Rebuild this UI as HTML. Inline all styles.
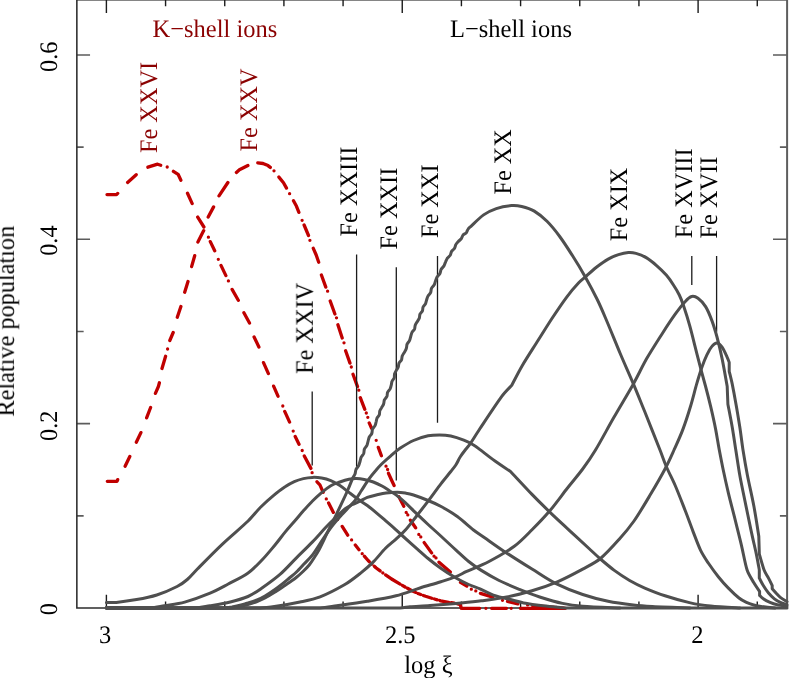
<!DOCTYPE html>
<html><head><meta charset="utf-8"><title>Fe ion populations</title>
<style>html,body{margin:0;padding:0;background:#fff;overflow:hidden;}svg{display:block;}text{font-family:"Liberation Serif",serif;font-size:24px;text-rendering:geometricPrecision;}</style></head><body>
<svg width="789" height="678" viewBox="0 0 789 678">
<rect x="0" y="0" width="789" height="678" fill="#fff"/>
<path d="M76.85 515.83H83.65M76.85 423.66H90.05M76.85 331.49H83.65M76.85 239.32H90.05M76.85 147.15H83.65M76.85 54.98H90.05M787.10 515.83H779.90M787.10 423.66H773.00M787.10 331.49H779.90M787.10 239.32H773.00M787.10 147.15H779.90M787.10 54.98H773.00" stroke="#5c5c5c" stroke-width="1.6" fill="none"/>
<path d="M76.85 -0.30H787.10V608.05" stroke="#5e5e5e" stroke-width="2" fill="none"/>
<path d="M76.85 -0.30V608.05H787.10" stroke="#2c2c2c" stroke-width="1.55" fill="none" stroke-linejoin="miter"/>
<path d="M106.40 608.05V594.75M106.40 -0.30V13.00M165.57 608.05V601.45M165.57 -0.30V6.30M224.74 608.05V601.45M224.74 -0.30V6.30M283.91 608.05V601.45M283.91 -0.30V6.30M343.08 608.05V601.45M343.08 -0.30V6.30M402.25 608.05V594.75M402.25 -0.30V13.00M461.42 608.05V601.45M461.42 -0.30V6.30M520.59 608.05V601.45M520.59 -0.30V6.30M579.76 608.05V601.45M579.76 -0.30V6.30M638.93 608.05V601.45M638.93 -0.30V6.30M698.10 608.05V594.75M698.10 -0.30V13.00M757.27 608.05V601.45M757.27 -0.30V6.30" stroke="#1c1c1c" stroke-width="1.4" fill="none"/>
<g fill="none" stroke="#c00000" stroke-width="3.3" stroke-linecap="round" stroke-linejoin="round">
<path d="M107.0 194.6L116.5 194.6L117.7 193.4M127.6 182.4L136.2 174.7M147.9 167.2L157.6 164.2L160.7 165.2M167.2 167.0l.01 0M173.4 171.3L178.1 174.3L180.9 180.2M187.5 193.3L192.2 203.6M197.7 217.1L203.9 227.0M208.4 237.2l.01 0M210.3 241.6L214.7 250.8M218.3 259.3l.01 0M221.0 265.4L225.9 275.6M228.4 280.9l.01 0M232.1 289.4L238.3 300.3M243.9 312.8L249.5 323.0M254.1 337.0L258.9 347.0M263.5 362.6L268.4 373.6M273.6 386.1L278.0 396.2M282.8 406.0l.01 0M284.7 411.4L289.6 422.1M293.2 431.1l.01 0M295.2 436.5L299.0 444.3M302.2 450.5l.01 0M304.3 456.0L310.9 468.4M312.1 472.7l.01 0M317.0 481.8L319.9 484.8L323.2 492.3M326.3 498.9l.01 0M328.6 503.0L333.4 512.4M337.6 519.6l.01 0M342.2 526.4L347.7 535.2M351.6 539.9l.01 0M355.3 545.1L359.0 549.8M362.2 553.7l.01 0"/>
<path d="M364.3 556.2L368.1 560.5L376.2 568.0L384.3 574.0L392.4 579.5" stroke-dasharray="7.5 3.3 0.1 3.3"/>
<path d="M392.4 579.5L402.7 585.6L411.9 590.8L418.0 593.5L425.6 596.3L433.2 598.7L440.8 600.8L448.4 602.3L456.0 603.4L460.3 604.6L461.2 608.2" stroke-dasharray="9 2.7 3 2.7"/>
<path d="M462.2 608.3H479.7M485.9 608.3l.01 0M491.6 608.3H506.5M511.2 608.3l.01 0M520.4 608.3H565.4"/>
<path d="M107.3 481.3L117.1 481.3L117.7 479.6M125.1 466.2L129.8 456.5M136.3 442.2L140.9 432.6M146.6 417.9L150.6 407.5M155.4 393.4L158.4 386.5L159.4 382.8M162.0 368.5L165.6 356.3M167.6 349.0l.01 0M169.8 340.5L173.2 332.5M177.3 317.3L180.9 306.5M184.7 292.2L188.0 281.5M191.6 266.6L194.7 255.7M197.9 242.0L203.7 230.6M208.2 217.0L213.6 206.9M219.0 195.8L227.9 182.5M236.4 172.5L239.4 169.8L247.9 165.5M257.8 162.8L263.0 163.5L268.0 165.6L270.3 167.4M274.0 170.8l.01 0M278.9 177.1L283.5 182.7L286.5 188.1M289.6 193.7l.01 0M293.5 200.8L296.5 206.3L298.9 212.4M302.1 220.3l.01 0M304.1 225.0L308.5 235.5M309.9 240.3l.01 0M313.3 248.3L316.2 255.0L318.7 262.3M321.4 275.0L325.8 287.1M327.6 291.2l.01 0M330.2 301.0L334.9 314.0M336.5 317.8l.01 0M337.9 324.8L342.2 338.0M344.0 342.8l.01 0M345.6 350.7L350.0 363.1M351.3 367.0l.01 0M353.0 374.2L357.5 386.6M358.8 390.2l.01 0M360.3 397.7L364.8 409.3M366.3 413.0l.01 0M367.8 417.3l.01 0M369.2 422.9L371.6 428.2M376.2 440.3l.01 0M378.3 447.4L381.4 455.8M386.0 466.2l.01 0M387.6 469.5l.01 0M388.5 473.3L391.5 480.0L394.1 485.5M398.9 496.8L403.8 506.2M406.2 512.4l.01 0M407.8 514.9l.01 0M410.4 520.2L415.6 527.8M418.8 534.4l.01 0M420.8 536.9l.01 0M424.2 542.6L431.6 552.9M434.0 556.2l.01 0M436.0 557.9l.01 0M439.0 562.2L450.3 572.1M460.5 582.4L466.8 586.1M471.3 589.2l.01 0M475.8 590.9l.01 0M480.4 593.4L492.9 597.1M502.5 600.3l.01 0M507.5 601.4L517.9 603.8M527.6 604.9l.01 0M532.6 605.7L548.0 607.0L563.6 608.2"/>
</g>
<path d="M312.2 391.4V465.6M356.6 254.5V466.8M396.3 267.2V480.6M437.5 256.0V422.8M691.8 256.0V285.0M716.6 256.0V331.8" stroke="#1c1c1c" stroke-width="1.3" fill="none"/>
<g fill="none" stroke="#4f4f4f" stroke-width="3" stroke-linecap="round" stroke-linejoin="round">
<path d="M106.4 602.5C108.1 602.5 113.0 602.7 116.3 602.4C121.3 601.9 129.9 600.8 136.6 599.6C143.3 598.4 150.2 597.1 156.8 595.0C163.6 592.8 172.0 589.1 177.1 586.5C180.8 584.6 184.2 582.2 187.3 579.5C190.7 576.6 194.0 572.4 197.4 569.0C203.3 563.0 214.2 551.8 222.7 543.8C231.0 536.0 241.8 527.1 248.1 521.0C252.6 516.6 256.6 511.2 260.8 507.0C264.8 503.0 269.3 499.0 273.4 495.6C277.2 492.5 281.6 489.1 285.1 486.8C288.0 484.8 291.2 483.0 294.3 481.6C297.2 480.3 300.4 479.3 303.4 478.6C306.4 477.9 309.5 477.5 312.5 477.4C315.5 477.3 318.6 477.5 321.6 478.0C324.7 478.5 327.9 479.4 330.8 480.6C333.9 481.9 337.0 483.7 339.9 485.6C342.9 487.6 346.0 490.1 349.0 492.4C352.0 494.7 355.1 497.1 358.1 499.3C361.1 501.5 364.3 503.3 367.3 505.5C370.4 507.8 373.4 510.3 376.4 512.8C379.4 515.3 382.5 518.1 385.5 520.7C388.8 523.5 393.1 527.2 396.0 529.8C398.3 531.8 400.4 534.0 402.7 536.0C405.9 538.9 411.2 543.6 415.4 547.4C419.6 551.1 423.9 555.0 428.1 558.5C432.2 561.9 436.4 565.1 440.8 568.2C445.4 571.5 451.4 575.3 456.0 578.0C460.1 580.4 464.7 582.7 468.7 584.5C472.4 586.2 476.3 587.3 480.0 588.9C484.4 590.8 490.1 593.9 495.2 595.7C500.1 597.4 505.3 598.2 510.4 599.5C515.5 600.8 520.5 602.3 525.6 603.3C530.6 604.3 535.7 605.0 540.8 605.6C545.9 606.2 551.7 606.7 556.0 607.1C559.6 607.4 564.9 607.9 566.7 608.0C603.4 608.0 750.3 608.0 787.0 608.0"/>
<path d="M106.4 608.0C113.7 608.0 140.3 608.4 150.0 608.0C154.9 607.8 159.6 606.6 164.4 605.8C170.2 604.8 178.1 603.9 184.7 602.1C192.3 600.0 202.9 596.2 210.1 593.2C216.2 590.7 222.0 587.4 227.8 584.3C234.1 580.9 242.4 576.9 248.1 572.9C253.3 569.2 257.6 564.6 262.0 560.0C266.5 555.4 271.1 549.6 275.0 545.0C278.5 540.8 281.9 536.0 285.1 532.1C288.1 528.5 291.3 525.0 294.3 521.5C297.4 518.0 300.4 514.2 303.4 510.8C306.4 507.5 309.5 504.0 312.5 501.0C315.4 498.1 318.6 495.2 321.6 492.6C324.5 490.1 327.8 487.5 330.8 485.7C333.6 484.1 336.9 483.1 339.9 482.0C342.9 480.9 346.2 479.8 349.0 479.2C351.5 478.7 354.1 478.4 356.6 478.5C359.1 478.6 361.7 479.0 364.2 479.5C367.0 480.1 370.4 480.9 373.3 482.0C376.4 483.1 379.7 484.8 382.5 486.3C385.1 487.7 387.9 489.8 390.1 491.2C392.1 492.4 394.1 493.5 396.0 494.9C398.5 496.8 402.1 499.7 405.0 502.3C408.2 505.2 411.6 508.9 415.0 512.2C418.9 515.9 423.8 520.5 428.1 524.5C432.3 528.4 436.6 532.1 440.8 536.0C445.4 540.3 451.4 545.9 456.0 550.1C460.2 553.9 464.5 558.1 468.7 561.5C472.7 564.7 476.9 567.7 481.3 570.4C486.4 573.6 493.0 577.5 499.1 580.5C505.5 583.7 512.6 586.6 519.4 589.4C526.1 592.1 532.8 594.8 539.7 597.0C546.9 599.3 555.3 601.9 562.5 603.4C569.1 604.8 575.9 605.7 582.7 606.2C592.3 607.0 613.8 607.7 620.0 608.0"/>
<path d="M106.4 608.0C121.2 608.0 177.7 608.4 195.0 608.0C200.1 607.9 205.0 606.6 210.0 605.8C215.9 604.8 224.0 603.5 230.3 602.0C236.3 600.5 242.7 598.8 248.0 596.5C253.0 594.3 257.5 591.1 262.0 588.0C267.3 584.3 274.3 579.3 280.0 574.4C285.7 569.4 290.8 563.5 296.2 558.1C301.6 552.7 307.6 547.0 312.5 541.9C316.9 537.3 321.6 531.8 325.4 527.8C328.6 524.5 331.9 521.3 335.2 518.2C338.4 515.1 342.1 511.2 344.9 509.0C347.0 507.3 349.6 506.1 352.0 504.8C354.5 503.5 357.4 502.3 360.0 501.1C362.5 499.9 364.7 498.4 367.3 497.4C370.0 496.4 373.2 495.7 376.2 495.0C379.3 494.3 382.7 493.4 386.0 493.0C389.5 492.6 394.0 492.3 397.3 492.3C400.2 492.3 403.3 492.8 406.0 493.2C408.5 493.6 411.1 494.2 413.5 495.0C417.2 496.2 423.5 498.6 428.1 500.5C432.5 502.3 436.9 504.2 441.1 506.5C446.0 509.2 452.2 512.8 457.3 516.5C462.7 520.4 468.9 526.4 473.5 530.0C477.2 532.9 481.2 535.3 485.0 538.0C490.1 541.6 497.7 547.1 504.2 551.4C512.0 556.6 523.5 563.8 532.0 569.1C539.6 573.8 546.9 579.1 554.9 583.1C563.4 587.3 573.8 591.5 582.7 594.5C591.0 597.3 599.7 599.5 608.1 601.3C616.4 603.0 626.0 604.2 633.4 605.1C639.7 605.9 646.1 606.3 652.4 606.6C661.8 607.1 683.7 607.8 690.0 608.0"/>
<path d="M106.4 608.0C126.2 608.0 204.1 608.2 225.0 608.0C227.4 608.0 229.7 607.4 232.0 607.0C234.5 606.5 237.5 605.9 240.0 605.3C242.4 604.7 244.7 603.9 247.0 603.2C249.8 602.4 253.5 601.4 256.5 600.2C259.4 599.0 262.3 597.6 265.0 596.0C267.9 594.3 271.4 592.0 274.2 590.0C276.9 588.2 279.5 586.2 282.0 584.2C284.6 582.1 287.6 579.5 290.0 577.5C292.1 575.8 294.3 574.2 296.2 572.3C298.5 570.0 301.4 566.8 304.0 564.0C306.7 561.1 310.0 558.2 312.5 554.9C315.5 550.9 319.0 545.1 322.2 540.3C325.4 535.6 328.6 530.5 331.9 526.3C335.0 522.3 338.8 518.1 341.7 514.8C344.2 512.0 347.2 509.0 349.5 506.5C351.5 504.3 353.7 502.2 355.5 499.8C357.5 497.2 359.4 493.8 361.3 490.8C363.6 487.3 366.6 482.3 369.0 478.9C371.2 475.9 373.9 472.6 376.0 470.2C377.7 468.1 379.5 466.1 381.4 464.2C383.9 461.8 387.7 458.4 390.8 455.8C393.8 453.2 396.7 450.5 400.0 448.3C403.8 445.8 408.8 442.6 413.5 440.5C418.2 438.4 423.8 436.7 428.1 435.8C431.8 435.0 435.7 434.9 439.5 434.9C443.3 434.9 447.1 435.2 450.8 436.0C454.9 436.9 460.0 438.7 463.8 440.2C467.2 441.5 470.8 443.4 473.5 445.0C475.8 446.3 477.9 448.0 480.0 449.6C483.6 452.3 489.9 457.4 495.0 461.0C500.1 464.6 507.9 469.8 510.5 471.5C514.1 475.3 525.5 487.6 532.0 494.4C537.8 500.4 543.8 506.3 549.8 512.1C556.1 518.2 563.6 525.0 570.1 531.1C576.4 536.9 584.0 543.9 589.0 548.5C592.8 552.0 596.5 555.6 600.4 559.0C604.6 562.6 609.5 566.8 614.3 570.4C619.2 574.0 624.5 577.5 629.6 580.5C634.5 583.3 639.6 585.9 644.8 588.1C650.7 590.6 658.1 593.6 665.0 595.8C672.6 598.3 682.8 601.2 690.4 602.9C697.1 604.4 703.9 605.3 710.7 606.0C719.0 606.9 735.1 607.7 740.0 608.0"/>
<path d="M106.4 608.0C127.0 608.0 208.1 608.2 230.0 608.0C232.7 608.0 235.4 607.5 238.0 607.0C240.8 606.5 244.0 605.6 247.0 604.8C250.1 603.9 253.5 602.9 256.5 601.8C259.4 600.7 262.2 599.4 265.0 598.0C267.9 596.5 271.4 594.4 274.2 592.6C276.8 591.0 279.4 589.2 282.0 587.5C284.6 585.7 287.6 583.7 290.0 582.0C292.1 580.5 294.2 579.1 296.2 577.5C298.4 575.8 300.8 573.6 303.0 571.5C305.2 569.4 307.4 567.2 309.2 565.0C311.0 562.8 312.5 560.4 314.0 558.0C315.6 555.5 317.4 552.8 318.9 550.0C321.2 545.7 324.7 538.1 327.6 532.2C330.5 526.2 333.8 519.7 336.4 514.3C338.8 509.4 341.5 503.8 343.4 499.7C344.9 496.5 346.4 493.3 347.8 490.0C349.4 486.4 351.6 480.6 352.8 477.9C353.4 476.5 354.5 475.4 355.0 474.0C355.5 472.6 355.4 470.9 356.0 469.5C356.6 468.2 357.9 467.1 358.6 465.8C359.3 464.4 359.6 462.9 360.0 461.5C360.4 460.1 360.6 458.6 361.2 457.2C361.8 455.9 363.1 454.9 363.7 453.5C364.2 452.1 363.9 450.4 364.4 449.1C365.0 447.7 366.3 446.7 366.9 445.4C367.5 444.0 367.7 442.5 368.1 441.1C368.5 439.7 368.7 438.3 369.3 437.0C369.9 435.8 371.2 434.8 371.8 433.5C372.3 432.2 372.0 430.5 372.5 429.2C373.1 427.9 374.4 426.9 375.0 425.7C375.6 424.4 375.8 422.9 376.2 421.6C376.5 420.4 376.6 419.1 377.1 417.9C377.6 416.8 378.9 415.9 379.3 414.8C379.8 413.6 379.4 412.1 379.8 410.9C380.2 409.7 381.0 408.7 381.6 407.6C382.2 406.4 383.2 405.3 383.6 404.0C384.1 402.7 383.9 401.1 384.4 399.9C385.0 398.6 386.3 397.7 386.9 396.4C387.4 395.2 387.1 393.6 387.6 392.3C388.2 391.0 389.5 390.1 390.1 388.9C390.7 387.6 391.0 386.2 391.3 384.9C391.6 383.7 391.6 382.3 392.1 381.2C392.6 380.0 393.8 379.1 394.2 377.9C394.6 376.7 394.2 375.2 394.6 374.0C394.9 372.8 395.6 371.7 396.2 370.6C396.8 369.5 397.8 368.4 398.2 367.1C398.7 365.9 398.5 364.4 399.0 363.1C399.6 361.9 400.9 361.1 401.5 359.9C402.0 358.6 401.8 357.1 402.3 355.9C402.7 354.6 403.7 353.6 404.3 352.4C405.0 351.2 405.9 349.9 406.3 348.5C406.8 347.1 406.6 345.5 407.1 344.1C407.7 342.8 409.0 341.7 409.6 340.4C410.2 339.1 410.4 337.5 410.8 336.2C411.2 334.9 411.4 333.6 412.0 332.4C412.6 331.2 413.9 330.3 414.5 329.1C415.0 327.9 414.8 326.3 415.3 325.1C415.7 323.8 416.6 322.7 417.3 321.6C418.0 320.5 418.8 319.4 419.3 318.2C419.7 316.9 419.5 315.4 420.0 314.2C420.5 313.0 421.8 312.2 422.4 311.0C422.9 309.8 422.6 308.2 423.1 307.0C423.6 305.8 424.9 304.9 425.5 303.8C426.0 302.6 426.2 301.3 426.6 300.0C427.0 298.7 427.3 297.2 428.0 296.0C428.6 294.8 430.0 293.9 430.6 292.6C431.2 291.3 430.9 289.7 431.5 288.4C432.1 287.1 433.5 286.2 434.1 285.0C434.8 283.8 435.0 282.3 435.5 281.0C436.0 279.7 436.4 278.2 437.1 276.9C437.9 275.7 439.3 274.8 439.9 273.5C440.6 272.2 440.5 270.5 441.2 269.3C441.8 268.0 443.2 267.1 444.0 265.9C444.7 264.6 445.0 263.1 445.6 261.8C446.1 260.6 446.6 259.3 447.3 258.2C448.1 257.1 449.5 256.4 450.2 255.3C450.9 254.1 450.9 252.5 451.6 251.4C452.3 250.3 453.7 249.6 454.4 248.5C455.2 247.4 455.2 245.8 455.8 244.6C456.4 243.5 457.4 242.5 458.3 241.5C459.2 240.5 460.4 239.8 461.2 238.8C462.0 237.7 462.2 236.1 463.0 235.1C463.9 234.1 465.4 233.7 466.3 232.7C467.1 231.7 467.3 230.1 468.1 229.1C468.9 228.0 470.0 227.2 471.0 226.3C473.6 223.9 479.4 217.9 483.6 214.9C487.5 212.2 491.8 210.1 496.3 208.6C500.9 207.0 507.3 205.9 511.5 205.6C514.9 205.3 518.4 205.7 521.7 206.5C525.5 207.4 530.4 208.8 534.3 211.1C538.5 213.6 543.2 217.5 547.0 221.3C551.2 225.5 555.8 231.2 559.7 236.5C563.9 242.2 568.3 249.1 572.4 255.5C576.7 262.2 581.2 269.6 585.3 276.9C589.4 284.1 593.6 292.1 597.0 299.0C600.1 305.2 602.8 311.6 605.5 318.0C609.4 327.1 615.6 342.5 620.2 353.5C624.5 363.7 629.3 374.2 633.4 383.9C637.3 393.2 641.0 402.5 644.8 411.8C649.2 422.8 656.4 440.9 660.0 450.0C662.2 455.5 664.0 461.1 666.3 466.5C668.8 472.4 672.4 479.1 675.2 485.5C678.4 492.9 682.3 503.2 685.3 510.8C687.9 517.5 690.4 524.6 692.9 531.1C695.4 537.5 698.0 544.8 700.5 550.1C702.6 554.5 705.4 558.7 708.1 562.8C711.1 567.2 714.9 572.5 718.3 576.7C721.5 580.7 724.9 584.6 728.4 588.1C731.8 591.6 736.0 595.6 739.0 598.0C741.2 599.8 743.9 601.2 746.4 602.4C748.7 603.5 751.2 604.3 753.7 605.0C756.1 605.7 758.6 606.1 761.1 606.5C764.6 607.0 772.7 607.8 775.0 608.0"/>
<path d="M106.4 608.0C132.0 608.0 231.7 608.3 260.0 608.0C265.4 607.9 270.7 607.1 276.0 606.3C282.7 605.3 292.6 603.6 300.0 602.0C306.8 600.6 313.7 599.4 320.1 596.9C327.5 594.0 337.5 588.8 344.4 584.8C350.4 581.3 356.4 576.4 361.2 572.6C365.4 569.3 369.5 565.7 373.3 561.9C377.4 557.8 381.7 552.1 385.5 548.3C388.8 545.0 392.7 542.1 396.0 539.1C399.2 536.1 402.5 533.3 405.4 530.0C408.9 526.1 413.0 520.5 416.8 515.7C420.6 510.9 424.4 506.0 428.1 501.1C432.2 495.8 437.3 488.5 441.1 483.6C444.2 479.5 448.4 474.6 450.8 471.5C452.5 469.4 454.3 467.3 455.8 465.0C457.4 462.6 458.6 459.4 460.3 456.8C462.0 454.1 464.3 451.2 466.0 449.0C467.4 447.2 469.0 445.5 470.3 443.6C472.6 440.2 476.7 433.5 480.0 428.5C485.2 420.7 496.3 403.8 501.6 396.6C504.6 392.5 510.1 387.1 511.8 385.2C513.5 382.0 518.3 372.4 521.9 366.2C526.3 358.7 533.3 348.0 538.3 340.0C542.9 332.7 547.4 325.4 552.1 318.2C556.9 311.0 562.5 302.7 566.9 296.8C570.6 291.9 575.6 286.1 578.7 282.8C580.7 280.7 583.1 278.9 585.3 277.0C588.2 274.4 592.6 270.2 596.4 267.2C600.2 264.3 604.5 261.2 608.2 259.1C611.5 257.2 615.1 255.7 618.5 254.6C621.7 253.6 625.5 252.8 628.4 252.6C630.9 252.4 633.5 252.7 636.0 253.4C639.0 254.2 643.0 255.7 646.2 257.6C649.6 259.6 653.1 262.5 656.3 265.3C659.7 268.2 663.6 272.0 666.5 275.3C669.2 278.4 671.5 281.9 673.6 285.2C675.7 288.4 677.7 291.6 679.3 295.0C680.9 298.3 682.2 301.8 683.4 305.3C685.1 310.4 687.8 318.8 689.7 325.6C691.6 332.3 693.2 339.1 694.9 345.9C696.6 352.7 698.3 359.4 700.1 366.2C701.9 373.0 703.8 379.8 705.6 386.5C707.4 393.2 709.1 399.9 710.7 406.7C712.4 413.9 714.3 422.4 715.7 429.6C717.0 436.4 718.0 443.2 719.3 450.0C720.6 456.8 721.9 463.6 723.3 470.3C724.8 477.5 726.6 485.5 728.4 493.1C730.3 501.1 732.7 510.0 734.8 518.4C736.9 526.8 739.1 535.3 741.1 543.8C743.2 552.4 745.0 563.5 747.1 570.0C748.6 574.5 751.6 578.9 753.7 582.5C755.5 585.6 758.6 589.9 759.6 591.4C759.6 592.1 759.6 594.7 759.6 595.4C760.2 596.0 761.9 597.9 763.3 598.8C765.0 600.0 767.7 601.4 770.0 602.4C772.3 603.4 774.8 604.2 777.3 604.7C780.1 605.3 785.4 605.9 787.0 606.1"/>
<path d="M106.4 608.0C142.0 608.0 281.6 608.4 320.0 608.0C325.6 607.9 331.2 606.6 336.8 605.8C344.7 604.7 357.4 603.0 367.3 601.3C376.9 599.7 387.2 598.0 396.0 595.8C404.2 593.7 412.7 590.3 420.0 588.0C426.6 585.9 434.0 583.9 440.0 582.0C445.4 580.3 451.6 578.4 456.0 576.7C459.5 575.3 462.7 573.3 466.1 571.7C471.6 569.2 481.6 565.4 489.0 561.5C497.0 557.3 507.1 551.6 514.3 546.3C520.8 541.5 526.3 535.5 532.0 529.8C537.9 523.9 544.2 517.4 549.8 510.8C555.7 503.8 562.0 495.0 567.5 488.0C572.5 481.6 578.0 475.3 582.7 469.0C587.2 462.9 591.6 456.5 595.5 450.0C600.7 441.4 607.6 428.3 613.8 417.5C620.1 406.5 627.9 393.7 633.4 383.9C638.0 375.6 642.0 366.9 646.7 358.6C651.6 350.2 657.8 340.6 662.5 333.2C666.6 326.8 671.4 319.5 675.2 314.2C678.4 309.8 682.5 304.4 685.3 301.5C687.1 299.5 689.6 297.0 691.7 296.5C693.8 296.0 696.2 297.0 698.0 298.3C700.3 300.0 703.6 303.4 705.6 306.6C707.9 310.3 710.1 315.8 711.9 320.6C713.8 325.7 715.5 331.5 717.0 337.0C718.7 343.3 720.6 351.4 722.1 358.6C723.8 366.9 726.4 381.9 727.2 386.5C727.3 389.4 727.8 401.2 727.9 404.2C728.6 408.0 730.9 419.4 732.2 427.0C733.5 434.6 734.6 442.3 735.8 450.0C737.1 458.1 738.3 466.9 739.8 475.3C741.3 483.8 743.2 492.2 744.9 500.7C746.8 510.0 749.3 522.2 751.2 531.1C752.8 538.7 754.9 547.4 756.3 553.9C757.4 559.2 758.8 567.3 759.3 570.0C759.3 571.4 759.3 576.8 759.3 578.1C760.0 579.3 761.8 583.1 763.3 585.5C764.8 588.0 766.6 590.7 768.5 592.9C770.3 595.0 772.4 597.2 774.4 598.8C776.2 600.2 778.2 601.4 780.3 602.4C782.4 603.4 785.9 604.3 787.0 604.7"/>
<path d="M106.4 608.0C155.3 608.0 349.4 608.2 400.0 608.0C403.4 608.0 406.7 607.1 410.0 606.8C415.0 606.4 423.3 606.1 430.0 605.6C437.7 605.0 447.4 604.2 456.0 603.4C464.4 602.6 472.9 601.9 481.3 600.8C489.8 599.7 498.3 598.7 506.7 597.0C515.1 595.3 523.7 593.2 532.0 590.7C540.5 588.2 549.1 585.3 557.4 581.8C565.9 578.2 575.5 573.0 582.7 569.1C588.8 565.8 595.1 562.9 600.5 558.5C606.5 553.6 613.4 545.8 619.0 539.5C624.3 533.6 629.4 527.5 634.0 521.0C639.1 513.7 644.7 504.2 649.8 495.6C655.0 486.9 661.0 476.6 665.0 469.0C668.3 462.8 671.1 456.4 674.0 450.0C677.0 443.4 680.2 436.5 682.8 429.6C685.5 422.4 688.1 414.3 690.4 406.7C692.7 399.2 694.8 390.4 696.7 383.9C698.3 378.4 700.1 372.4 701.8 367.5C703.3 363.2 705.2 358.3 706.9 354.8C708.3 351.9 710.2 348.4 711.9 346.4C713.2 344.8 715.3 342.8 717.0 342.9C718.7 343.0 720.8 345.4 722.1 347.2C723.8 349.6 726.0 354.8 727.2 357.3C728.0 359.0 728.9 361.5 729.2 362.4C729.2 363.9 729.2 369.8 729.2 371.3C729.7 373.4 731.3 379.7 732.2 383.9C733.3 389.4 734.8 397.4 736.0 404.2C737.3 411.4 738.6 419.4 739.8 427.0C741.0 434.6 741.8 442.4 743.0 450.0C744.3 458.1 745.8 466.9 747.4 475.3C749.2 484.6 751.9 495.6 753.8 505.8C755.7 515.9 758.0 531.1 758.8 536.2C758.9 539.2 759.2 550.9 759.3 553.9C760.1 556.6 762.6 566.0 764.1 570.0C765.2 572.9 767.1 575.5 768.5 578.1C769.8 580.5 771.6 584.3 772.2 585.5C772.2 586.0 772.2 588.2 772.2 588.8C772.8 589.5 774.6 591.6 775.9 592.9C777.2 594.3 778.7 596.0 780.3 597.3C782.1 598.8 785.9 601.0 787.0 601.7"/>
</g>
<g opacity="0.999">
<text transform="translate(152.6 36.9) scale(1.020 1.050)" fill="#8b0000">K−shell ions</text>
<text transform="translate(450.0 36.9) scale(1.020 1.050)" fill="#000">L−shell ions</text>
<text transform="translate(157.2 153.0) rotate(-90) scale(1.012 1.050)" fill="#8b0000">Fe XXVI</text>
<text transform="translate(257.3 151.4) rotate(-90) scale(1.012 1.050)" fill="#8b0000">Fe XXV</text>
<text transform="translate(312.8 373.9) rotate(-90) scale(1.012 1.050)" fill="#000">Fe XXIV</text>
<text transform="translate(356.6 236.4) rotate(-90) scale(1.012 1.050)" fill="#000">Fe XXIII</text>
<text transform="translate(397.0 249.4) rotate(-90) scale(1.012 1.050)" fill="#000">Fe XXII</text>
<text transform="translate(438.0 238.0) rotate(-90) scale(1.012 1.050)" fill="#000">Fe XXI</text>
<text transform="translate(510.7 194.6) rotate(-90) scale(1.012 1.050)" fill="#000">Fe XX</text>
<text transform="translate(627.2 241.2) rotate(-90) scale(1.012 1.050)" fill="#000">Fe XIX</text>
<text transform="translate(692.3 238.2) rotate(-90) scale(1.012 1.050)" fill="#000">Fe XVIII</text>
<text transform="translate(717.2 238.4) rotate(-90) scale(1.012 1.050)" fill="#000">Fe XVII</text>
<text transform="translate(13.9 416.6) rotate(-90) scale(1.012 1.050)" fill="#000">Relative population</text>
<text transform="translate(57.2 609.2) rotate(-90) scale(1.012 1.050)" fill="#000" text-anchor="middle">0</text>
<text transform="translate(57.2 425.7) rotate(-90) scale(1.012 1.050)" fill="#000" text-anchor="middle">0.2</text>
<text transform="translate(57.2 240.6) rotate(-90) scale(1.012 1.050)" fill="#000" text-anchor="middle">0.4</text>
<text transform="translate(57.2 56.8) rotate(-90) scale(1.012 1.050)" fill="#000" text-anchor="middle">0.6</text>
<text transform="translate(105.2 642.9) scale(1.020 1.050)" fill="#000" text-anchor="middle">3</text>
<text transform="translate(400.3 642.9) scale(1.020 1.050)" fill="#000" text-anchor="middle">2.5</text>
<text transform="translate(697.4 642.9) scale(1.020 1.050)" fill="#000" text-anchor="middle">2</text>
<text transform="translate(404.3 673.3) scale(1.020 1.050)" fill="#000">log ξ</text>
</g>
</svg></body></html>
